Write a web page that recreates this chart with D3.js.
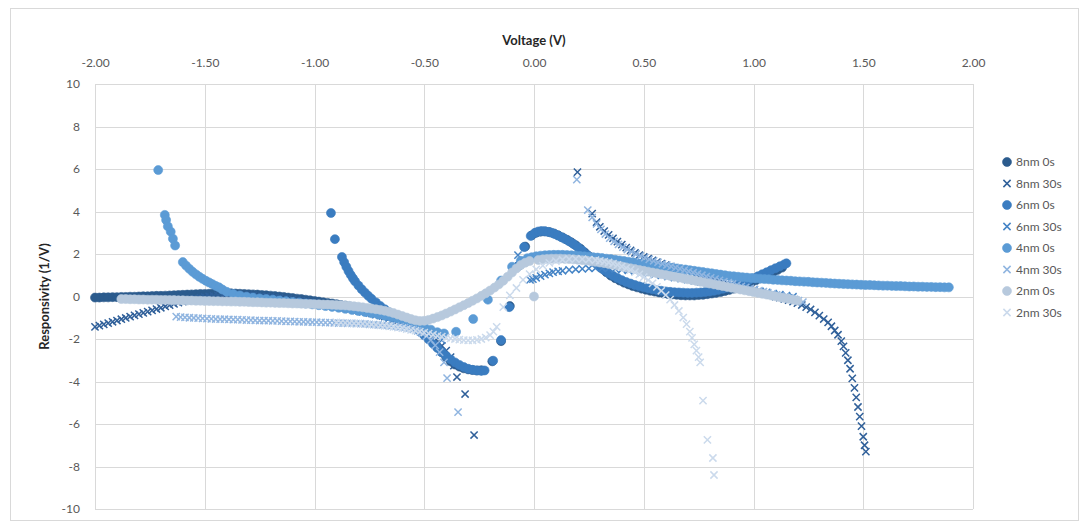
<!DOCTYPE html>
<html>
<head>
<meta charset="utf-8">
<script src="https://cdn.jsdelivr.net/npm/d3@7"></script>
<style>
  html, body { margin: 0; padding: 0; background: #ffffff; }
  svg { display: block; font-family: Lato, "Open Sans", "Liberation Sans", sans-serif; }
</style>
</head>
<body>
<svg id="chart" width="1089" height="525"></svg>
<script>
// ---- axis ticks ----
const voltageTicks = [-2, -1.5, -1, -0.5, 0, 0.5, 1, 1.5, 2];
const responsivityTicks = [-10, -8, -6, -4, -2, 0, 2, 4, 6, 8, 10];

// ---- series names (legend order = drawing order) ----
const seriesNames = ["8nm 0s", "8nm 30s", "6nm 0s", "6nm 30s", "4nm 0s", "4nm 30s", "2nm 0s", "2nm 30s"];
const seriesSymbols = ["circle", "cross", "circle", "cross", "circle", "cross", "circle", "cross"];
const seriesColors = ["#2b5b8d", "#30609a", "#3a7cc0", "#4584c6", "#5b9bd5", "#90b5e0", "#b7c9dd", "#cbdaec"];

// ---- measured responsivity, [voltage (V), responsivity (1/V)] ----
const data8nm0s = [
  [-2.00,-0.05],[-1.98,-0.05],[-1.96,-0.04],[-1.94,-0.04],[-1.92,-0.03],[-1.90,-0.03],[-1.88,-0.02],[-1.86,-0.02],
  [-1.84,-0.01],[-1.82,-0.01],[-1.80,0.00],[-1.78,0.01],[-1.76,0.01],[-1.74,0.02],[-1.72,0.03],[-1.70,0.03],
  [-1.68,0.04],[-1.66,0.05],[-1.64,0.06],[-1.62,0.07],[-1.60,0.08],[-1.58,0.09],[-1.56,0.10],[-1.54,0.11],
  [-1.52,0.12],[-1.50,0.12],[-1.48,0.13],[-1.46,0.14],[-1.44,0.14],[-1.42,0.15],[-1.40,0.15],[-1.38,0.15],
  [-1.36,0.14],[-1.34,0.13],[-1.32,0.12],[-1.30,0.11],[-1.28,0.10],[-1.26,0.09],[-1.24,0.07],[-1.22,0.06],
  [-1.20,0.04],[-1.18,0.02],[-1.16,0.00],[-1.14,-0.02],[-1.12,-0.05],[-1.10,-0.07],[-1.08,-0.10],[-1.06,-0.12],
  [-1.04,-0.15],[-1.02,-0.18],[-1.00,-0.21],[-0.98,-0.24],[-0.96,-0.27],[-0.94,-0.30],[-0.92,-0.33],[-0.90,-0.36],
  [-0.88,-0.40],[-0.86,-0.43],[-0.84,-0.47],[-0.82,-0.51],[-0.80,-0.55],[-0.78,-0.59],[-0.76,-0.63],[-0.74,-0.68],
  [-0.72,-0.73],[-0.70,-0.78],[-0.68,-0.83],[-0.66,-0.88],[-0.64,-0.94],[-0.62,-1.00],[-0.60,-1.07],[-0.58,-1.14],
  [-0.56,-1.21],[-0.54,-1.33],[-0.52,-1.48],[-0.50,-1.65],[-0.48,-1.88],[-0.46,-2.13],[-0.44,-2.40],[-0.42,-2.63],
  [-0.40,-2.85],[-0.38,-3.05],[-0.36,-3.20],[-0.34,-3.30],[-0.32,-3.38],[-0.30,-3.43],[-0.28,-3.46],[-0.26,-3.48],
  [-0.24,-3.47],[-0.19,-3.05],[-0.15,-2.10],[-0.11,-0.45],[-0.07,1.45],[-0.04,2.35],[-0.01,2.88],[0.01,3.00],
  [0.03,3.05],[0.05,3.06],[0.07,3.03],[0.09,2.97],[0.11,2.88],[0.13,2.78],[0.15,2.67],[0.17,2.55],
  [0.19,2.41],[0.21,2.26],[0.23,2.08],[0.25,1.90],[0.27,1.70],[0.29,1.50],[0.31,1.31],[0.33,1.14],
  [0.35,0.98],[0.37,0.86],[0.39,0.75],[0.41,0.65],[0.43,0.57],[0.45,0.49],[0.47,0.43],[0.49,0.37],
  [0.51,0.32],[0.53,0.27],[0.55,0.23],[0.57,0.19],[0.59,0.15],[0.61,0.12],[0.63,0.10],[0.65,0.08],
  [0.67,0.06],[0.69,0.05],[0.71,0.05],[0.73,0.05],[0.75,0.07],[0.77,0.08],[0.79,0.11],[0.81,0.14],
  [0.83,0.17],[0.85,0.21],[0.87,0.26],[0.89,0.31],[0.91,0.37],[0.93,0.44],[0.95,0.51],[0.97,0.59],
  [0.99,0.67],[1.01,0.76],[1.03,0.85],[1.05,0.95],[1.07,1.05],[1.09,1.15],[1.11,1.25],[1.13,1.36]
];

const data8nm30s = [
  [-2.00,-1.43],[-1.98,-1.37],[-1.96,-1.31],[-1.94,-1.25],[-1.92,-1.19],[-1.90,-1.13],[-1.88,-1.07],[-1.86,-1.01],
  [-1.84,-0.95],[-1.82,-0.89],[-1.80,-0.83],[-1.78,-0.77],[-1.76,-0.71],[-1.74,-0.65],[-1.72,-0.59],[-1.70,-0.53],
  [-1.68,-0.47],[-1.66,-0.41],[-1.64,-0.35],[-1.62,-0.29],[-1.60,-0.24],[-1.58,-0.19],[-1.56,-0.14],[-1.54,-0.10],
  [-1.52,-0.06],[-1.50,-0.03],[-1.48,0.00],[-1.46,0.03],[-1.44,0.05],[-1.42,0.07],[-1.40,0.08],[-1.38,0.08],
  [-1.36,0.08],[-1.34,0.07],[-1.32,0.06],[-1.30,0.05],[-1.28,0.04],[-1.26,0.02],[-1.24,0.01],[-1.22,-0.01],
  [-1.20,-0.03],[-1.18,-0.05],[-1.16,-0.07],[-1.14,-0.10],[-1.12,-0.12],[-1.10,-0.15],[-1.08,-0.17],[-1.06,-0.20],
  [-1.04,-0.23],[-1.02,-0.26],[-1.00,-0.29],[-0.98,-0.32],[-0.96,-0.35],[-0.94,-0.38],[-0.92,-0.42],[-0.90,-0.45],
  [-0.88,-0.49],[-0.86,-0.53],[-0.84,-0.57],[-0.82,-0.61],[-0.80,-0.65],[-0.78,-0.70],[-0.76,-0.74],[-0.74,-0.79],
  [-0.72,-0.84],[-0.70,-0.89],[-0.68,-0.95],[-0.66,-1.01],[-0.64,-1.07],[-0.62,-1.13],[-0.60,-1.20],[-0.58,-1.28],
  [-0.56,-1.36],[-0.54,-1.45],[-0.52,-1.55],[-0.50,-1.67],[-0.48,-1.80],[-0.46,-1.95],[-0.44,-2.12],[-0.42,-2.32],
  [-0.40,-2.55],[-0.38,-2.85],[-0.365,-3.25],[-0.351,-3.79],[-0.314,-4.59],[-0.273,-6.52],
  [0.198,5.85],[0.265,3.90],[0.285,3.50],[0.30,3.28],[0.32,3.08],[0.34,2.90],[0.36,2.74],[0.38,2.58],
  [0.40,2.44],[0.42,2.30],[0.44,2.17],[0.46,2.05],[0.48,1.95],[0.50,1.86],[0.52,1.78],[0.54,1.70],
  [0.56,1.62],[0.58,1.55],[0.60,1.48],[0.62,1.41],[0.64,1.35],[0.66,1.28],[0.68,1.22],[0.70,1.16],
  [0.72,1.10],[0.74,1.04],[0.76,0.98],[0.78,0.92],[0.80,0.86],[0.82,0.80],[0.84,0.74],[0.86,0.68],
  [0.88,0.62],[0.90,0.56],[0.92,0.50],[0.94,0.44],[0.96,0.39],[0.98,0.33],[1.00,0.28],[1.02,0.22],
  [1.04,0.17],[1.06,0.11],[1.08,0.06],[1.10,0.00],[1.12,-0.05],[1.14,-0.11],[1.16,-0.17],[1.18,-0.24],
  [1.20,-0.31],[1.22,-0.40],[1.24,-0.50],[1.26,-0.61],[1.28,-0.75],[1.30,-0.90],[1.32,-1.06],[1.34,-1.22],
  [1.355,-1.40],[1.37,-1.60],[1.385,-1.80],[1.40,-2.10],[1.41,-2.35],[1.42,-2.65],[1.43,-3.00],[1.44,-3.40],
  [1.45,-3.85],[1.46,-4.30],[1.468,-4.75],[1.476,-5.20],[1.484,-5.65],[1.492,-6.10],[1.50,-6.60],[1.506,-7.00],
  [1.512,-7.30]
];

const data6nm0s = [
  [-0.925,3.93],[-0.907,2.70],[-0.875,1.86],[-0.865,1.62],[-0.855,1.40],[-0.845,1.20],[-0.835,1.02],[-0.825,0.86],
  [-0.815,0.71],[-0.80,0.52],[-0.785,0.34],[-0.77,0.18],[-0.755,0.03],[-0.74,-0.11],[-0.72,-0.28],[-0.70,-0.45],
  [-0.68,-0.60],[-0.66,-0.74],[-0.64,-0.87],[-0.62,-0.99],[-0.60,-1.11],[-0.58,-1.22],[-0.56,-1.34],[-0.54,-1.48],
  [-0.52,-1.65],[-0.50,-1.83],[-0.48,-2.02],[-0.46,-2.22],[-0.44,-2.42],[-0.42,-2.62],[-0.40,-2.80],[-0.38,-2.96],
  [-0.36,-3.10],[-0.34,-3.22],[-0.32,-3.32],[-0.30,-3.40],[-0.28,-3.45],[-0.26,-3.48],[-0.24,-3.50],[-0.225,-3.48],
  [-0.186,-3.02],[-0.15,-2.05],[-0.113,-0.50],[-0.072,1.43],[-0.045,2.33],[-0.015,2.85],[0.005,3.00],[0.02,3.06],
  [0.035,3.08],[0.05,3.07],[0.065,3.04],[0.08,3.00],[0.095,2.94],[0.11,2.87],[0.125,2.79],[0.14,2.71],
  [0.16,2.60],[0.18,2.47],[0.20,2.32],[0.22,2.16],[0.24,1.98],[0.26,1.78],[0.28,1.58],[0.30,1.40],
  [0.32,1.24],[0.34,1.10],[0.36,0.98],[0.38,0.87],[0.40,0.77],[0.42,0.68],[0.44,0.61],[0.46,0.54],
  [0.48,0.48],[0.50,0.43],[0.52,0.38],[0.54,0.34],[0.56,0.30],[0.58,0.27],[0.60,0.24],[0.62,0.22],
  [0.64,0.20],[0.66,0.19],[0.68,0.18],[0.70,0.17],[0.72,0.17],[0.74,0.18],[0.76,0.19],[0.78,0.21],
  [0.80,0.23],[0.82,0.27],[0.84,0.31],[0.86,0.36],[0.88,0.41],[0.90,0.47],[0.92,0.54],[0.94,0.61],
  [0.96,0.69],[0.98,0.77],[1.00,0.86],[1.02,0.95],[1.04,1.05],[1.06,1.14],[1.08,1.24],[1.10,1.33],
  [1.12,1.42],[1.14,1.51],[1.15,1.56]
];

const data6nm30s = [
  [-1.20,-0.12],[-1.17,-0.15],[-1.14,-0.18],[-1.11,-0.22],[-1.08,-0.25],[-1.05,-0.29],[-1.02,-0.33],[-0.99,-0.37],
  [-0.96,-0.41],[-0.93,-0.46],[-0.90,-0.50],[-0.87,-0.55],[-0.84,-0.60],[-0.81,-0.66],[-0.78,-0.72],[-0.75,-0.78],
  [-0.72,-0.85],[-0.69,-0.92],[-0.66,-1.00],[-0.63,-1.08],[-0.60,-1.17],[-0.57,-1.27],[-0.54,-1.38],[-0.51,-1.51],
  [-0.48,-1.66],[-0.45,-1.84],[-0.42,-2.05],
  [-0.073,1.95],[-0.018,0.78],[-0.005,0.82],[0.01,0.88],[0.03,0.96],[0.05,1.03],[0.07,1.09],[0.087,1.15],
  [0.11,1.18],[0.13,1.21],[0.16,1.25],[0.19,1.28],[0.22,1.30],[0.25,1.32],[0.28,1.33],[0.31,1.33],
  [0.34,1.32],[0.37,1.30],[0.40,1.27],[0.43,1.23],[0.46,1.19],[0.49,1.14],[0.52,1.09],[0.55,1.04],
  [0.58,0.99],[0.61,0.94],[0.64,0.89],[0.67,0.84],[0.70,0.79],[0.73,0.74],[0.76,0.69],[0.79,0.64],
  [0.82,0.59],[0.85,0.54],[0.88,0.49],[0.91,0.44],[0.94,0.39],[0.97,0.34],[1.00,0.29],[1.03,0.24],
  [1.06,0.19],[1.09,0.14],[1.12,0.09],[1.15,0.04],[1.18,-0.01]
];

const data4nm0s = [
  [-1.712,5.95],[-1.682,3.84],[-1.676,3.60],[-1.668,3.30],[-1.655,3.05],[-1.645,2.72],[-1.635,2.40],[-1.60,1.62],
  [-1.585,1.45],[-1.57,1.30],[-1.555,1.16],[-1.54,1.04],[-1.525,0.93],[-1.51,0.83],[-1.495,0.74],[-1.48,0.66],
  [-1.465,0.58],[-1.45,0.50],[-1.435,0.43],[-1.42,0.33],[-1.40,0.22],[-1.37,0.12],[-1.34,0.05],[-1.31,-0.01],
  [-1.28,-0.05],[-1.25,-0.09],[-1.22,-0.12],[-1.19,-0.15],[-1.16,-0.19],[-1.13,-0.22],[-1.10,-0.26],[-1.07,-0.29],
  [-1.04,-0.33],[-1.01,-0.37],[-0.98,-0.41],[-0.95,-0.45],[-0.92,-0.49],[-0.89,-0.53],[-0.86,-0.58],[-0.83,-0.63],
  [-0.80,-0.68],[-0.77,-0.73],[-0.74,-0.79],[-0.71,-0.85],[-0.68,-0.91],[-0.65,-0.98],[-0.62,-1.05],[-0.59,-1.13],
  [-0.56,-1.22],[-0.53,-1.32],[-0.50,-1.43],[-0.47,-1.56],[-0.44,-1.68],[-0.41,-1.74],[-0.355,-1.66],[-0.277,-1.06],
  [-0.21,-0.15],[-0.15,0.75],[-0.10,1.40],[-0.06,1.68],[-0.03,1.80],[-0.01,1.85],[0.01,1.89],[0.03,1.92],
  [0.05,1.94],[0.07,1.95],[0.09,1.96],[0.11,1.96],[0.13,1.96],[0.15,1.95],[0.17,1.94],[0.19,1.93],
  [0.21,1.91],[0.23,1.89],[0.25,1.87],[0.27,1.85],[0.29,1.83],[0.31,1.81],[0.33,1.78],[0.35,1.76],
  [0.37,1.73],[0.39,1.70],[0.41,1.67],[0.43,1.64],[0.45,1.61],[0.47,1.58],[0.49,1.55],[0.51,1.52],
  [0.53,1.49],[0.55,1.46],[0.57,1.43],[0.59,1.40],[0.61,1.37],[0.63,1.35],[0.65,1.32],[0.67,1.29],
  [0.69,1.27],[0.71,1.24],[0.73,1.21],[0.75,1.18],[0.77,1.15],[0.79,1.12],[0.81,1.09],[0.83,1.06],
  [0.85,1.03],[0.87,1.00],[0.89,0.97],[0.91,0.95],[0.93,0.93],[0.95,0.91],[0.97,0.89],[0.99,0.87],
  [1.01,0.85],[1.03,0.84],[1.05,0.82],[1.07,0.81],[1.09,0.79],[1.11,0.78],[1.13,0.76],[1.15,0.75],
  [1.17,0.74],[1.19,0.72],[1.21,0.71],[1.23,0.70],[1.25,0.69],[1.27,0.67],[1.29,0.66],[1.31,0.65],
  [1.33,0.64],[1.35,0.62],[1.37,0.61],[1.39,0.60],[1.41,0.59],[1.43,0.58],[1.45,0.57],[1.47,0.56],
  [1.49,0.55],[1.51,0.54],[1.53,0.54],[1.55,0.53],[1.57,0.52],[1.59,0.51],[1.61,0.51],[1.63,0.50],
  [1.65,0.49],[1.67,0.49],[1.69,0.48],[1.71,0.47],[1.73,0.47],[1.75,0.46],[1.77,0.46],[1.79,0.45],
  [1.81,0.45],[1.83,0.44],[1.85,0.44],[1.87,0.43],[1.89,0.43]
];

const data4nm30s = [
  [-1.63,-0.95],[-1.61,-0.97],[-1.59,-0.98],[-1.57,-1.00],[-1.55,-1.01],[-1.53,-1.02],[-1.51,-1.03],[-1.49,-1.04],
  [-1.47,-1.05],[-1.45,-1.06],[-1.43,-1.07],[-1.41,-1.07],[-1.39,-1.08],[-1.37,-1.09],[-1.35,-1.09],[-1.33,-1.10],
  [-1.31,-1.11],[-1.29,-1.11],[-1.27,-1.12],[-1.25,-1.13],[-1.23,-1.13],[-1.21,-1.14],[-1.19,-1.15],[-1.17,-1.15],
  [-1.15,-1.16],[-1.13,-1.17],[-1.11,-1.17],[-1.09,-1.18],[-1.07,-1.19],[-1.05,-1.19],[-1.03,-1.20],[-1.01,-1.21],
  [-0.99,-1.21],[-0.97,-1.22],[-0.95,-1.23],[-0.93,-1.23],[-0.91,-1.24],[-0.89,-1.25],[-0.87,-1.25],[-0.85,-1.26],
  [-0.83,-1.27],[-0.81,-1.28],[-0.79,-1.28],[-0.77,-1.29],[-0.75,-1.31],[-0.73,-1.32],[-0.71,-1.33],[-0.69,-1.35],
  [-0.67,-1.36],[-0.65,-1.38],[-0.63,-1.40],[-0.61,-1.43],[-0.59,-1.46],[-0.57,-1.50],[-0.55,-1.55],[-0.53,-1.62],
  [-0.51,-1.72],[-0.49,-1.86],[-0.47,-2.05],[-0.45,-2.30],[-0.43,-2.62],[-0.41,-3.10],[-0.396,-3.84],[-0.346,-5.44],
  [0.195,5.50],[0.245,4.07],[0.265,3.72],[0.285,3.42],[0.305,3.16],[0.325,2.94],[0.345,2.75],[0.365,2.59],
  [0.385,2.45],[0.405,2.32],[0.425,2.21],[0.445,2.10],[0.465,2.00],[0.485,1.91],[0.505,1.83],[0.525,1.75],
  [0.545,1.68],[0.565,1.61],[0.585,1.54],[0.605,1.48],[0.625,1.42],[0.645,1.36],[0.665,1.30],[0.685,1.24],
  [0.705,1.18],[0.725,1.12],[0.745,1.06],[0.765,1.00],[0.785,0.94],[0.805,0.88],[0.825,0.82],[0.845,0.76],
  [0.865,0.70],[0.885,0.65],[0.905,0.59],[0.925,0.54],[0.945,0.48],[0.965,0.43],[0.985,0.38],[1.005,0.33],
  [1.025,0.28],[1.045,0.23],[1.065,0.18],[1.085,0.13],[1.105,0.08],[1.125,0.03],[1.145,-0.02],[1.165,-0.07],
  [1.185,-0.13],[1.205,-0.19],[1.225,-0.26]
];

const data2nm0s = [
  [-1.88,-0.12],[-1.86,-0.12],[-1.84,-0.13],[-1.82,-0.13],[-1.80,-0.14],[-1.78,-0.14],[-1.76,-0.15],[-1.74,-0.15],
  [-1.72,-0.15],[-1.70,-0.16],[-1.68,-0.16],[-1.66,-0.17],[-1.64,-0.17],[-1.62,-0.18],[-1.60,-0.18],[-1.58,-0.19],
  [-1.56,-0.19],[-1.54,-0.20],[-1.52,-0.20],[-1.50,-0.21],[-1.48,-0.21],[-1.46,-0.22],[-1.44,-0.22],[-1.42,-0.23],
  [-1.40,-0.23],[-1.38,-0.24],[-1.36,-0.24],[-1.34,-0.25],[-1.32,-0.25],[-1.30,-0.26],[-1.28,-0.27],[-1.26,-0.27],
  [-1.24,-0.28],[-1.22,-0.29],[-1.20,-0.29],[-1.18,-0.30],[-1.16,-0.31],[-1.14,-0.31],[-1.12,-0.32],[-1.10,-0.33],
  [-1.08,-0.33],[-1.06,-0.34],[-1.04,-0.35],[-1.02,-0.35],[-1.00,-0.36],[-0.98,-0.37],[-0.96,-0.38],[-0.94,-0.38],
  [-0.92,-0.39],[-0.90,-0.40],[-0.88,-0.41],[-0.86,-0.42],[-0.84,-0.44],[-0.82,-0.46],[-0.80,-0.48],[-0.78,-0.51],
  [-0.76,-0.54],[-0.74,-0.57],[-0.72,-0.60],[-0.70,-0.63],[-0.68,-0.67],[-0.66,-0.72],[-0.64,-0.78],[-0.62,-0.85],
  [-0.60,-0.92],[-0.58,-0.99],[-0.56,-1.06],[-0.54,-1.12],[-0.52,-1.15],[-0.50,-1.14],[-0.48,-1.10],[-0.46,-1.04],
  [-0.44,-0.97],[-0.42,-0.89],[-0.40,-0.80],[-0.38,-0.71],[-0.36,-0.61],[-0.34,-0.51],[-0.32,-0.41],[-0.30,-0.31],
  [-0.28,-0.20],[-0.26,-0.09],[-0.24,0.03],[-0.22,0.15],[-0.20,0.28],[-0.18,0.42],[-0.16,0.57],[-0.14,0.74],
  [-0.12,0.93],[-0.10,1.13],[-0.08,1.32],[-0.06,1.48],[-0.04,1.59],[-0.02,1.67],[0.00,0.00],[0.02,1.72],
  [0.04,1.75],[0.06,1.77],[0.08,1.78],[0.10,1.78],[0.12,1.78],[0.14,1.77],[0.16,1.76],[0.18,1.75],
  [0.20,1.73],[0.22,1.71],[0.24,1.69],[0.26,1.66],[0.28,1.63],[0.30,1.60],[0.32,1.57],[0.34,1.53],
  [0.36,1.49],[0.38,1.45],[0.40,1.41],[0.42,1.37],[0.44,1.33],[0.46,1.29],[0.48,1.25],[0.50,1.21],
  [0.52,1.17],[0.54,1.13],[0.56,1.09],[0.58,1.05],[0.60,1.01],[0.62,0.97],[0.64,0.93],[0.66,0.89],
  [0.68,0.85],[0.70,0.81],[0.72,0.77],[0.74,0.73],[0.76,0.69],[0.78,0.65],[0.80,0.61],[0.82,0.57],
  [0.84,0.53],[0.86,0.49],[0.88,0.45],[0.90,0.41],[0.92,0.37],[0.94,0.33],[0.96,0.29],[0.98,0.25],
  [1.00,0.21],[1.02,0.17],[1.04,0.13],[1.06,0.09],[1.08,0.05],[1.10,0.01],[1.12,-0.03],[1.14,-0.07],
  [1.16,-0.11],[1.18,-0.15],[1.20,-0.19]
];

const data2nm30s = [
  [-0.90,-1.22],[-0.88,-1.23],[-0.86,-1.24],[-0.84,-1.25],[-0.82,-1.26],[-0.80,-1.27],[-0.78,-1.29],[-0.76,-1.30],
  [-0.74,-1.32],[-0.72,-1.34],[-0.70,-1.36],[-0.68,-1.38],[-0.66,-1.40],[-0.64,-1.43],[-0.62,-1.46],[-0.60,-1.49],
  [-0.58,-1.53],[-0.56,-1.57],[-0.54,-1.61],[-0.52,-1.65],[-0.50,-1.70],[-0.48,-1.75],[-0.46,-1.80],[-0.44,-1.85],
  [-0.42,-1.89],[-0.40,-1.93],[-0.38,-1.97],[-0.36,-2.00],[-0.34,-2.03],[-0.32,-2.05],[-0.30,-2.06],[-0.28,-2.06],
  [-0.26,-2.04],[-0.24,-2.00],[-0.22,-1.93],[-0.20,-1.82],[-0.185,-1.65],[-0.17,-1.43],[-0.14,-0.50],[-0.11,0.05],
  [-0.08,0.40],[-0.05,0.78],[-0.02,1.05],[0.01,1.28],[0.04,1.45],[0.07,1.58],[0.10,1.67],[0.13,1.73],
  [0.16,1.76],[0.19,1.77],[0.22,1.76],[0.25,1.74],[0.28,1.71],[0.30,1.68],[0.32,1.64],[0.34,1.60],
  [0.36,1.55],[0.38,1.49],[0.40,1.42],[0.42,1.34],[0.44,1.25],[0.46,1.15],[0.48,1.04],[0.50,0.91],
  [0.52,0.77],[0.54,0.62],[0.56,0.45],[0.58,0.27],[0.60,0.07],[0.62,-0.15],[0.64,-0.40],[0.66,-0.68],
  [0.68,-0.99],[0.695,-1.30],[0.71,-1.65],[0.72,-1.95],[0.73,-2.25],[0.74,-2.55],[0.75,-2.85],[0.757,-3.10],
  [0.77,-4.90],[0.79,-6.75],[0.815,-7.60],[0.82,-8.40]
];

const seriesData = [data8nm0s, data8nm30s, data6nm0s, data6nm30s, data4nm0s, data4nm30s, data2nm0s, data2nm30s];

// ---- layout ----
const svg = d3.select("#chart");
const plot = { left: 95, right: 973, top: 84, bottom: 509 };

const x = d3.scaleLinear().domain([-2, 2]).range([plot.left, plot.right]);
const y = d3.scaleLinear().domain([-10, 10]).range([plot.bottom, plot.top]);

// chart area frame
svg.append("rect")
  .attr("x", 10.5).attr("y", 8.5)
  .attr("width", 1068).attr("height", 512)
  .attr("fill", "#ffffff").attr("stroke", "#d9d9d9").attr("stroke-width", 1);

// horizontal axis on top with vertical gridlines
const xAxis = d3.axisTop(x)
  .tickValues(voltageTicks)
  .tickSize(-(plot.bottom - plot.top))
  .tickPadding(17)
  .tickFormat(d => d.toFixed(2));

const gx = svg.append("g")
  .attr("transform", `translate(0,${plot.top})`)
  .call(xAxis);
gx.select(".domain").remove();
gx.selectAll(".tick line").attr("stroke", "#d9d9d9").attr("shape-rendering", "crispEdges");
gx.selectAll(".tick text").attr("fill", "#595959").attr("font-size", 12)
  .attr("font-family", "Lato, 'Open Sans', sans-serif");

// vertical axis with horizontal gridlines
const yAxis = d3.axisLeft(y)
  .tickValues(responsivityTicks)
  .tickSize(-(plot.right - plot.left))
  .tickPadding(15)
  .tickFormat(d => String(d));

const gy = svg.append("g")
  .attr("transform", `translate(${plot.left},0)`)
  .call(yAxis);
gy.select(".domain").remove();
gy.selectAll(".tick line").attr("stroke", "#d9d9d9").attr("shape-rendering", "crispEdges");
gy.selectAll(".tick text").attr("fill", "#595959").attr("font-size", 12)
  .attr("font-family", "Lato, 'Open Sans', sans-serif");

// axis titles
svg.append("text")
  .attr("x", (plot.left + plot.right) / 2).attr("y", 45)
  .attr("text-anchor", "middle")
  .attr("font-size", 13).attr("font-weight", "bold").attr("fill", "#262626")
  .text("Voltage (V)");

svg.append("text")
  .attr("transform", `translate(49,${(plot.top + plot.bottom) / 2}) rotate(-90)`)
  .attr("text-anchor", "middle")
  .attr("font-size", 13).attr("font-weight", "bold").attr("fill", "#262626")
  .text("Responsivity (1/V)");

// marker drawing
const R_CIRCLE = 4.5;
const X_HALF = 3.6;

function drawMarker(sel, symbol, color) {
  if (symbol === "circle") {
    sel.append("circle").attr("r", R_CIRCLE).attr("fill", color).attr("stroke", color).attr("stroke-width", 0.6);
  } else {
    sel.append("path")
      .attr("d", `M${-X_HALF},${-X_HALF}L${X_HALF},${X_HALF}M${-X_HALF},${X_HALF}L${X_HALF},${-X_HALF}`)
      .attr("stroke", color).attr("stroke-width", 1.5).attr("fill", "none");
  }
}

const plotLayer = svg.append("g");
seriesData.forEach((pts, i) => {
  const g = plotLayer.append("g").attr("class", "series");
  const marks = g.selectAll("g.pt")
    .data(pts)
    .join("g")
    .attr("class", "pt")
    .attr("transform", d => `translate(${x(d[0])},${y(d[1])})`);
  drawMarker(marks, seriesSymbols[i], seriesColors[i]);
});

// legend
const legend = svg.append("g").attr("transform", "translate(1007,162)");
seriesNames.forEach((name, i) => {
  const item = legend.append("g").attr("transform", `translate(0,${i * 21.5})`);
  drawMarker(item, seriesSymbols[i], seriesColors[i]);
  item.append("text")
    .attr("x", 9).attr("y", 4.3)
    .attr("font-size", 12).attr("fill", "#595959")
    .text(name);
});
</script>
</body>
</html>
